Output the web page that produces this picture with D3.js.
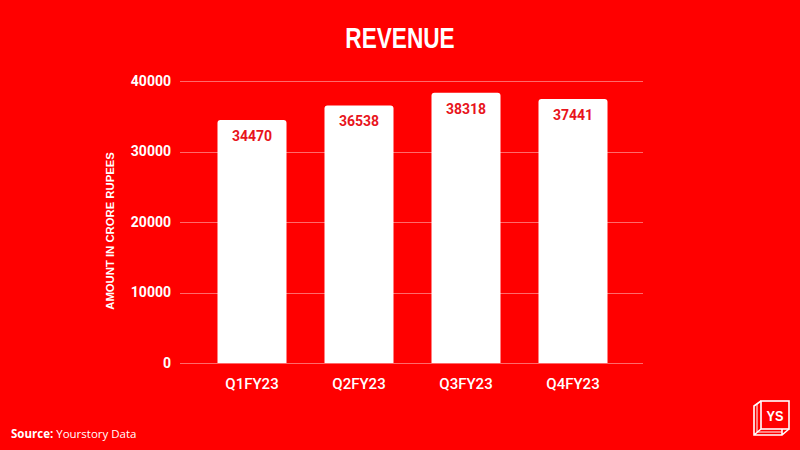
<!DOCTYPE html>
<html><head><meta charset="utf-8">
<script src="https://cdn.jsdelivr.net/npm/d3@7/dist/d3.min.js"></script>
<style>
html,body{margin:0;padding:0;background:#ff0000;}
svg{display:block;}
</style>
</head><body>
<svg id="chart" width="800" height="450"></svg>
<script>
const categories = ["Q1FY23", "Q2FY23", "Q3FY23", "Q4FY23"];
const revenue = [34470, 36538, 38318, 37441];
const yTicks = [0, 10000, 20000, 30000, 40000];
const title = "REVENUE";
const yAxisTitle = "AMOUNT IN CRORE RUPEES";

const svg = d3.select("#chart");
svg.append("rect").attr("width", 800).attr("height", 450).attr("fill", "#ff0000");

const y = d3.scaleLinear().domain([0, 40000]).range([363, 81]);
const x = d3.scaleBand().domain(categories).range([198.5, 626.5]).paddingInner(0.355).paddingOuter(0.1775);

// gridlines
svg.append("g").selectAll("line").data(yTicks).join("line")
  .attr("x1", 180).attr("x2", 643)
  .attr("y1", d => Math.round(y(d)) + 0.5).attr("y2", d => Math.round(y(d)) + 0.5)
  .attr("stroke", "#ff6a6a").attr("stroke-width", 1);

// y tick labels
svg.append("g").selectAll("text").data(yTicks).join("text")
  .attr("x", 171).attr("y", d => y(d)).attr("dy", "0.35em")
  .attr("text-anchor", "end").attr("fill", "#ffffff")
  .attr("font-family", "Roboto, 'Liberation Sans', sans-serif")
  .attr("font-weight", "700").attr("font-size", 14)
  .text(d => d);

// y axis title
svg.append("text")
  .attr("transform", "translate(114,231) rotate(-90)")
  .attr("text-anchor", "middle").attr("fill", "#ffffff")
  .attr("font-family", "'Liberation Sans', Arial, sans-serif")
  .attr("font-weight", "700").attr("font-size", 11.3)
  .text(yAxisTitle);

// bars with rounded top corners
const r = 3;
svg.append("g").selectAll("path").data(categories).join("path")
  .attr("d", (c, i) => {
    const x0 = x(c), x1 = x(c) + x.bandwidth(), yt = y(revenue[i]), yb = y(0);
    return `M${x0},${yb} L${x0},${yt + r} Q${x0},${yt} ${x0 + r},${yt} L${x1 - r},${yt} Q${x1},${yt} ${x1},${yt + r} L${x1},${yb} Z`;
  })
  .attr("fill", "#ffffff");

// value labels
svg.append("g").selectAll("text").data(categories).join("text")
  .attr("x", c => x(c) + x.bandwidth() / 2)
  .attr("y", (c, i) => y(revenue[i]) + 21)
  .attr("text-anchor", "middle").attr("fill", "#e8141c")
  .attr("font-family", "Roboto, 'Liberation Sans', sans-serif")
  .attr("font-weight", "700").attr("font-size", 14)
  .text((c, i) => revenue[i]);

// x labels
svg.append("g").selectAll("text").data(categories).join("text")
  .attr("x", c => x(c) + x.bandwidth() / 2)
  .attr("y", 389)
  .attr("text-anchor", "middle").attr("fill", "#ffffff")
  .attr("font-family", "Roboto, 'Liberation Sans', sans-serif")
  .attr("font-weight", "500").attr("font-size", 15)
  .text(c => c);

// title (condensed via horizontal scale)
svg.append("text")
  .attr("transform", "translate(400,48) scale(0.78,1)")
  .attr("text-anchor", "middle").attr("fill", "#ffffff")
  .attr("font-family", "'Liberation Sans', Arial, sans-serif")
  .attr("font-weight", "700").attr("font-size", 29)
  .text(title);

// source
const src = svg.append("text").attr("x", 11).attr("y", 438)
  .attr("fill", "#ffffff").attr("font-family", "'Open Sans', sans-serif").attr("font-size", 11.5);
src.append("tspan").attr("font-weight", "700").text("Source:");
src.append("tspan").attr("font-weight", "400").text(" Yourstory Data");

// logo
const lg = svg.append("g").attr("fill", "none").attr("stroke", "#ffffff").attr("stroke-width", 1.6);
lg.append("rect").attr("x", 761).attr("y", 401).attr("width", 28).attr("height", 28);
lg.append("path").attr("d", "M761,401 L754,406 L754,435 L782,435 L789,429 M754,435 L761,429 M782,435 L782,429");
lg.append("path").attr("d", "M757,404 L757,432 M757,432 L782,432").attr("stroke-width", 1);
svg.append("text").attr("transform", "translate(775,421) scale(0.85,1)").attr("text-anchor", "middle")
  .attr("fill", "#ffffff").attr("font-family", "'Liberation Sans', Arial, sans-serif")
  .attr("font-weight", "700").attr("font-size", 15).text("YS");
</script>
</body></html>
